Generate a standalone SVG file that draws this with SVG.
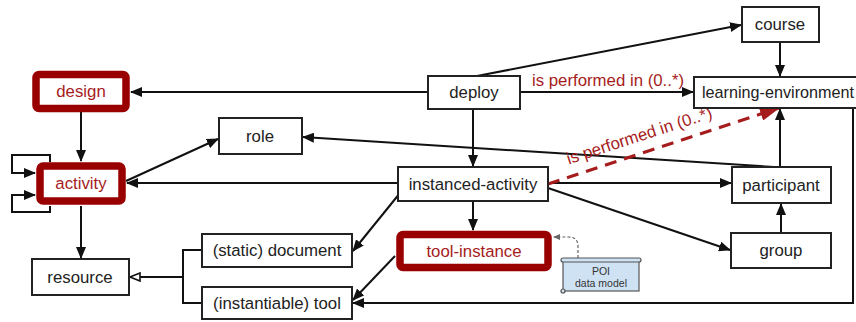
<svg xmlns="http://www.w3.org/2000/svg" width="856" height="322" viewBox="0 0 856 322">
<style>
.box{fill:#fff;stroke:#222;stroke-width:2}
.hl{fill:#fff;stroke:#990000;stroke-width:7.5}
.t{font-family:"Liberation Sans",Arial,sans-serif;font-size:16.8px;fill:#222;text-anchor:middle}
.tr{font-family:"Liberation Sans",Arial,sans-serif;font-size:16.8px;fill:#a61c1c;text-anchor:middle}
.e{fill:none;stroke:#111;stroke-width:2}
</style>
<defs>
<marker id="a" markerUnits="userSpaceOnUse" markerWidth="12" markerHeight="10" refX="11" refY="5" orient="auto"><path d="M0,0 L12,5 L0,10 Z" fill="#111"/></marker>
<marker id="h" markerUnits="userSpaceOnUse" markerWidth="12" markerHeight="10" refX="11" refY="5" orient="auto"><path d="M1,1 L11,5 L1,9 Z" fill="#fff" stroke="#111" stroke-width="1.6"/></marker>
<marker id="r" markerUnits="userSpaceOnUse" markerWidth="20" markerHeight="14" refX="19" refY="7" orient="auto"><path d="M0,0 L20,7 L0,14 Z" fill="#a61c1c"/></marker>
<marker id="s" markerUnits="userSpaceOnUse" markerWidth="7" markerHeight="6" refX="6" refY="3" orient="auto"><path d="M0,0 L7,3 L0,6 Z" fill="#666"/></marker>
</defs>
<g id="edges">
<path class="e" d="M428 92 H131" marker-end="url(#a)"/>
<path class="e" d="M477 76 L741 25" marker-end="url(#a)"/>
<path class="e" d="M520 92 H693" marker-end="url(#a)"/>
<path class="e" d="M473 109 V166" marker-end="url(#a)"/>
<path class="e" d="M780 42 V76" marker-end="url(#a)"/>
<path class="e" d="M81 112 V161" marker-end="url(#a)"/>
<path class="e" d="M81 206 V258" marker-end="url(#a)"/>
<path class="e" d="M398 183 H127" marker-end="url(#a)"/>
<path class="e" d="M126 181 L218 139" marker-end="url(#a)"/>
<path class="e" d="M774 167 L303 137" marker-end="url(#a)"/>
<path class="e" d="M780 167 V109" marker-end="url(#a)"/>
<path class="e" d="M548 183 H731" marker-end="url(#a)"/>
<path class="e" d="M548 188 L730 250" marker-end="url(#a)"/>
<path class="e" d="M781 233 V204" marker-end="url(#a)"/>
<path class="e" d="M473 201 V230" marker-end="url(#a)"/>
<path class="e" d="M400 193 L353 251" marker-end="url(#a)"/>
<path class="e" d="M395 256 L353 300" marker-end="url(#a)"/>
<path class="e" d="M853 108 V303 H353" marker-end="url(#a)"/>
<path class="e" d="M50 162 V155 H12 V173 H35" marker-end="url(#a)"/>
<path class="e" d="M50 206 V212 H12 V195 H35" marker-end="url(#a)"/>
<path class="e" d="M202 250 H183 V303 H202 M183 277 H130" marker-end="url(#h)"/>
<path d="M548 184 L779 108" fill="none" stroke="#a61c1c" stroke-width="3" stroke-dasharray="12,8" marker-end="url(#r)"/>
<path d="M578 258 V246 Q578 237 568 237 H554" fill="none" stroke="#666" stroke-width="1.2" stroke-dasharray="3,2" marker-end="url(#s)"/>
<text class="tr" x="608" y="86">is performed in (0..*)</text>
<text class="tr" transform="translate(641 141) rotate(-18)">is performed in (0..*)</text>
</g>
<g id="course"><rect class="box" x="742" y="7" width="77" height="35"/><text class="t" x="780" y="30">course</text></g>
<g id="learning-environment"><rect class="box" x="694" y="77" width="170" height="31"/><text class="t" x="702" y="98" style="text-anchor:start;font-size:16.2px">learning-environment</text></g>
<g id="deploy"><rect class="box" x="428" y="76" width="92" height="33"/><text class="t" x="474" y="98">deploy</text></g>
<g id="design"><rect class="hl" x="36" y="74.5" width="90" height="34" rx="3"/><text class="tr" x="81" y="97">design</text></g>
<g id="activity"><rect class="hl" x="40" y="166" width="82" height="35" rx="3"/><text class="tr" x="81" y="189">activity</text></g>
<g id="role"><rect class="box" x="219" y="118" width="83" height="36"/><text class="t" x="260" y="142">role</text></g>
<g id="instanced-activity"><rect class="box" x="398" y="167" width="150" height="34"/><text class="t" x="473" y="190">instanced-activity</text></g>
<g id="participant"><rect class="box" x="732" y="167" width="99" height="36"/><text class="t" x="781" y="191">participant</text></g>
<g id="group"><rect class="box" x="731" y="233" width="100" height="35"/><text class="t" x="781" y="256">group</text></g>
<g id="tool-instance"><rect class="hl" x="400" y="234.5" width="148" height="33" rx="3"/><text class="tr" x="474" y="257">tool-instance</text></g>
<g id="resource"><rect class="box" x="32" y="259" width="97" height="36"/><text class="t" x="80" y="283">resource</text></g>
<g id="static-document"><rect class="box" x="202" y="234" width="150" height="33"/><text class="t" x="277" y="256">(static) document</text></g>
<g id="instantiable-tool"><rect class="box" x="202" y="287" width="150" height="32"/><text class="t" x="277" y="309">(instantiable) tool</text></g>
<g id="poi">
<rect x="563" y="261" width="76" height="30" fill="#cfe2f3" stroke="#555" stroke-width="1.2"/>
<rect x="561" y="258" width="80" height="4" rx="2" fill="#cfe2f3" stroke="#555" stroke-width="1.2"/>
<circle cx="563" cy="291" r="2" fill="#cfe2f3" stroke="#555" stroke-width="1.2"/>
<text x="601" y="275" font-family="Liberation Sans,Arial,sans-serif" font-size="10.5" fill="#333" text-anchor="middle">POI</text>
<text x="601" y="287" font-family="Liberation Sans,Arial,sans-serif" font-size="10.5" fill="#333" text-anchor="middle">data model</text>
</g>
</svg>
